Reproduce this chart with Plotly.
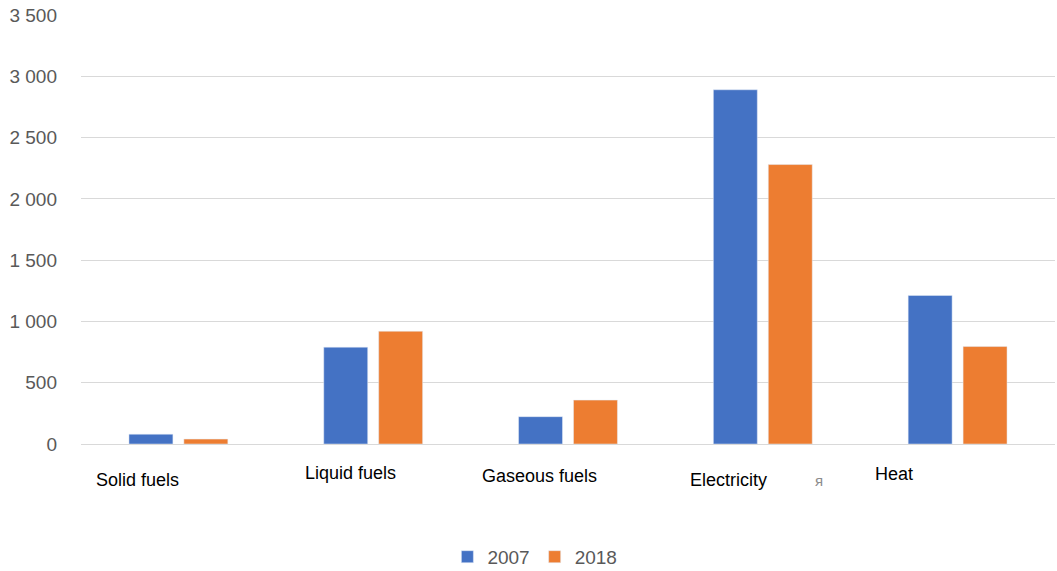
import plotly.graph_objects as go

# Final energy consumption by carrier
categories = ["Solid fuels", "Liquid fuels", "Gaseous fuels", "Electricity", "Heat"]
values_2007 = [80, 790, 223, 2890, 1212]
values_2018 = [40, 920, 358, 2280, 795]

y_tick_values = [0, 500, 1000, 1500, 2000, 2500, 3000, 3500]
y_tick_labels = ["0", "500", "1 000", "1 500", "2 000", "2 500", "3 000", "3 500"]

# horizontal shift (in category units) and vertical offset (px) of each category caption
caption_shift = [-0.208, -0.115, -0.146, -0.177, -0.326]
caption_dy = [-36, -29, -32, -36, -30]

BLUE = "#4472C4"
ORANGE = "#ED7D31"
GREY_TEXT = "#595959"
FONT = "Liberation Sans, Arial, sans-serif"

fig = go.Figure()
fig.add_trace(go.Bar(name="2007", x=categories, y=values_2007, marker_color=BLUE))
fig.add_trace(go.Bar(name="2018", x=categories, y=values_2018, marker_color=ORANGE))

for i, label in enumerate(categories):
    fig.add_annotation(
        x=i + caption_shift[i], y=0, xref="x", yref="y",
        text=label, showarrow=False, yanchor="middle", yshift=caption_dy[i],
        font=dict(family=FONT, size=18, color="#000000"),
    )

# small stray glyph between the last two captions
fig.add_annotation(
    x=3.29, y=0, xref="x", yref="y", text="я", showarrow=False,
    yshift=-36, font=dict(family=FONT, size=15, color="#8c8c8c"),
)

fig.update_layout(
    width=1057, height=571,
    margin=dict(l=81, r=2, t=15, b=127, autoexpand=False),
    paper_bgcolor="white", plot_bgcolor="white",
    barmode="group", bargap=0.436, bargroupgap=0.2,
    font=dict(family=FONT, color=GREY_TEXT),
    legend=dict(
        orientation="h", x=0.466, xanchor="center", y=-0.263, yanchor="middle",
        font=dict(size=19, color=GREY_TEXT), itemwidth=30, traceorder="normal",
    ),
    showlegend=True,
)
fig.update_xaxes(showticklabels=False, showgrid=False, showline=False, zeroline=False)
fig.update_yaxes(
    range=[0, 3500], tickvals=y_tick_values, ticktext=y_tick_labels,
    showgrid=True, gridcolor="#d9d9d9", gridwidth=1, zeroline=True,
    zerolinecolor="#d9d9d9", zerolinewidth=1,
    tickfont=dict(size=19, color=GREY_TEXT), ticklabelstandoff=23,
)

fig.write_html("out.html")
